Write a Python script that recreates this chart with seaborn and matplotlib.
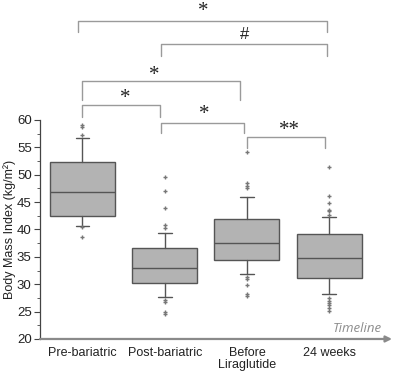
import matplotlib
matplotlib.use("Agg")
import matplotlib.pyplot as plt
from matplotlib.ticker import MultipleLocator
import seaborn as sns

# data (BMI, kg/m2)
groups = ["Pre-bariatric", "Post-bariatric", "Before\nLiraglutide", "24 weeks"]
q1 = [42.5, 30.3, 34.4, 31.1]
median = [46.8, 32.9, 37.6, 34.7]
q3 = [52.4, 36.6, 41.9, 39.2]
whisker_low = [40.6, 27.7, 31.9, 28.2]
whisker_high = [56.7, 39.4, 46.0, 42.3]
fliers = [
    [59.1, 58.7, 57.3, 40.4, 38.7],
    [49.6, 47.1, 44.0, 40.8, 40.3, 27.1, 26.8, 25.0, 24.5],
    [54.2, 48.4, 48.0, 47.5, 31.4, 31.0, 29.9, 28.3, 27.9],
    [51.5, 46.1, 44.8, 43.6, 43.3, 42.6, 27.4, 27.0, 26.6, 26.2, 25.7, 25.1],
]

# significance comparisons (group index pairs)
comparisons = [(0, 3, "*"), (1, 3, "#"), (0, 2, "*"), (0, 1, "*"), (1, 2, "*"), (2, 3, "**")]

sns.set_theme(style="ticks")
plt.rcParams['font.family'] = ['Liberation Sans', 'DejaVu Sans']

fig = plt.figure(figsize=(4.0, 3.71), dpi=100)
ax = fig.add_axes([0.1, 0.0863, 0.88, 0.5903])

stats = []
for i in range(len(groups)):
    stats.append({"q1": q1[i], "med": median[i], "q3": q3[i],
                  "whislo": whisker_low[i], "whishi": whisker_high[i],
                  "fliers": fliers[i]})

edge = "#555555"
ax.bxp(stats, positions=range(len(groups)), widths=0.79, patch_artist=True,
       capwidths=0.17,
       boxprops=dict(facecolor="#b3b3b3", edgecolor=edge, linewidth=1),
       medianprops=dict(color=edge, linewidth=1),
       whiskerprops=dict(color=edge, linewidth=1),
       capprops=dict(color=edge, linewidth=1),
       flierprops=dict(marker="+", markersize=3.5, markeredgecolor="#777777",
                       markeredgewidth=1.0, linestyle="none"))

ax.set_xlim(-0.517, 3.765)
ax.set_ylim(20, 60)
ax.yaxis.set_major_locator(MultipleLocator(5))
ax.yaxis.set_minor_locator(MultipleLocator(2.5))
ax.set_xticks(range(len(groups)))
ax.set_xticklabels(groups, fontsize=9, color="#222222", linespacing=1.0)
ax.tick_params(axis="x", length=0, pad=6)
ax.tick_params(axis="y", which="major", length=4, width=0.8, color="#444444",
               labelsize=9.5, labelcolor="#222222", pad=2)
ax.tick_params(axis="y", which="minor", length=2, width=0.6, color="#444444")
ax.set_ylabel("Body Mass Index (kg/m²)", fontsize=9, color="#222222", labelpad=1)

for s in ["top", "right", "bottom"]:
    ax.spines[s].set_visible(False)
ax.spines["left"].set_color("#444444")
ax.spines["left"].set_linewidth(0.9)

# timeline arrow along the bottom
ax.annotate("", xy=(1.0, 0), xytext=(0, 0), xycoords="axes fraction",
            arrowprops=dict(arrowstyle="-|>", color="#8a8a8a", lw=1.6,
                            mutation_scale=9, shrinkA=0, shrinkB=0))
ax.text(0.972, 0.018, "Timeline", transform=ax.transAxes, ha="right", va="bottom",
        fontsize=9.5, color="#8c8c8c", style="italic", family="Open Sans")

# significance brackets above the axes:
# (left end, right end, bar height, leg bottom, label x, label top)
layout = [(-0.05, 2.98, 78.1, 76.0, 1.465, 81.5),
          (0.955, 2.98, 73.8, 71.7, 1.97, 76.9),
          (-0.01, 1.91, 67.2, 63.6, 0.873, 69.8),
          (-0.01, 0.943, 62.8, 60.6, 0.517, 65.7),
          (0.951, 1.965, 59.4, 57.6, 1.478, 62.65),
          (1.998, 2.95, 56.95, 54.8, 2.512, 59.9)]
gray = "#9a9a9a"
for (a, b, lab), (xa, xb, top, leg, tx, ty) in zip(comparisons, layout):
    ax.plot([xa, xa, xb, xb], [leg, top, top, leg], color=gray, lw=1.0,
            clip_on=False, solid_joinstyle="round")
    font = "Liberation Serif" if lab != "#" else "Liberation Sans"
    ax.text(tx, ty, lab, ha="center", va="top",
            fontsize=15 if lab != "#" else 12, family=font,
            color="#222222", clip_on=False)

fig.savefig("out.png", dpi=100)
